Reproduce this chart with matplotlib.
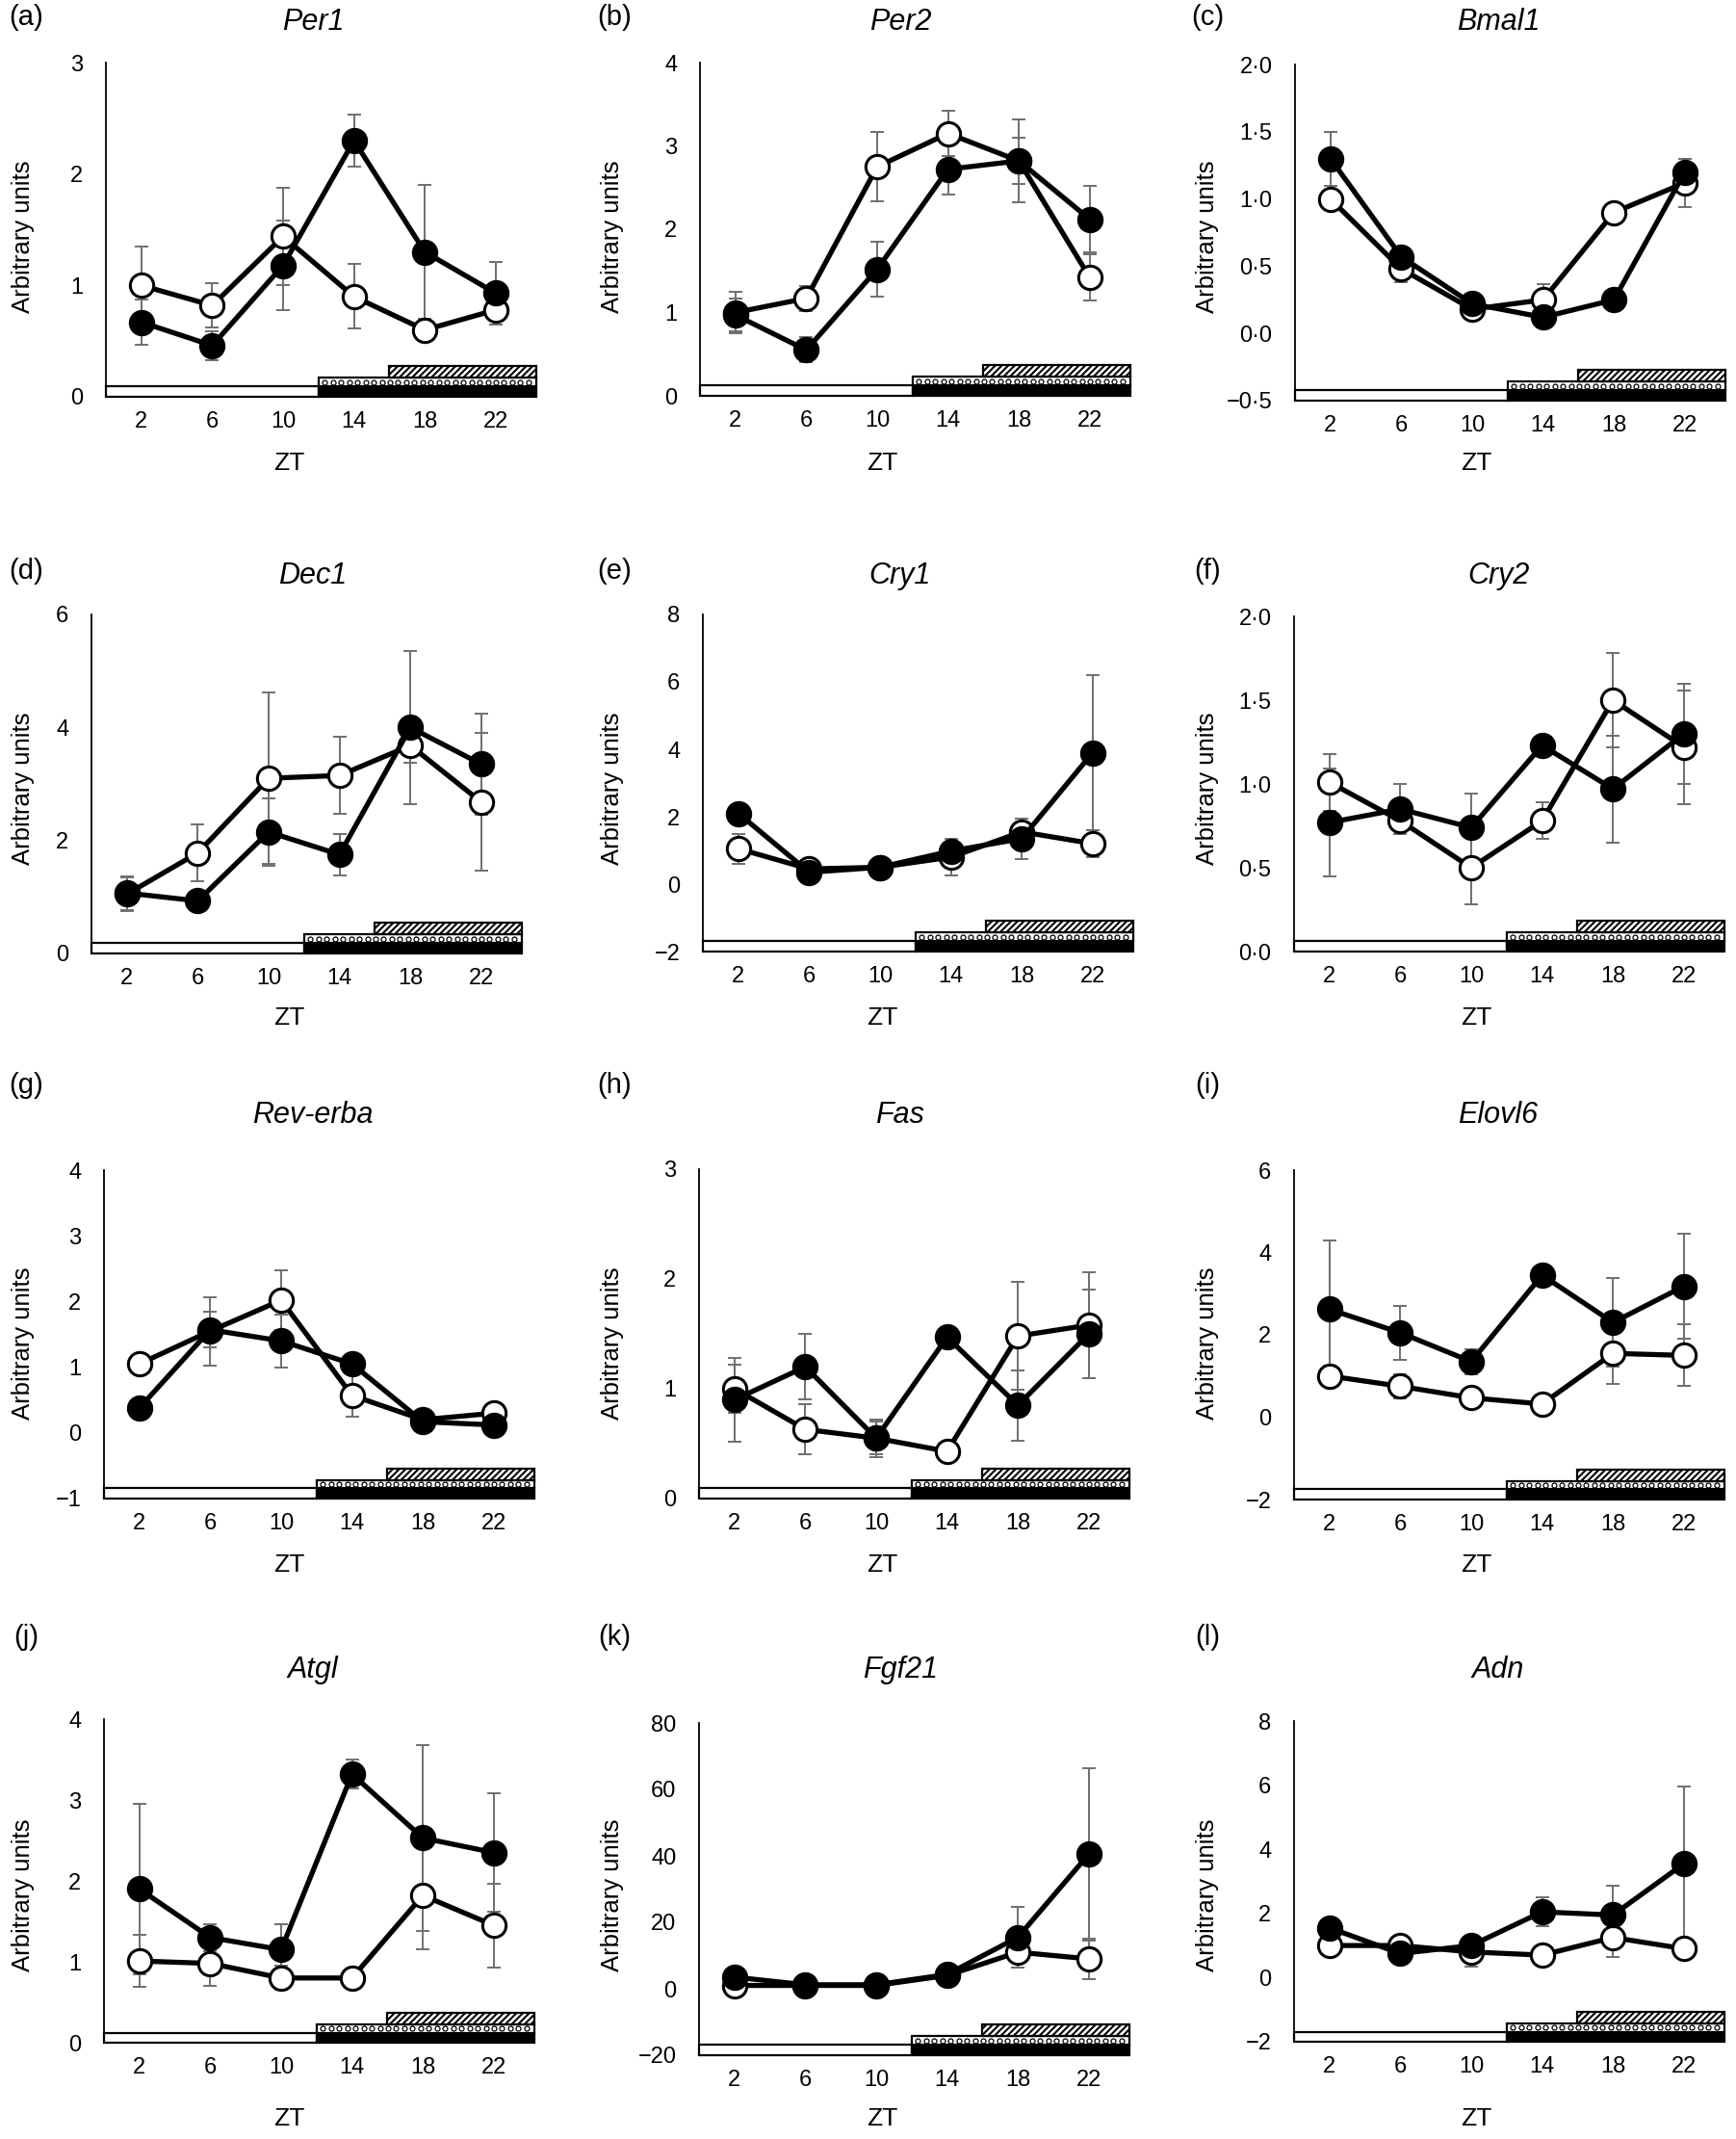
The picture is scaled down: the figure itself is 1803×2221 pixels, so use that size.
import numpy as np
import matplotlib.pyplot as plt
from matplotlib.patches import Rectangle

plt.rcParams['font.family'] = ['Liberation Sans', 'DejaVu Sans']
plt.rcParams['hatch.linewidth'] = 1.5

zt = [2, 6, 10, 14, 18, 22]

# open circles = one group, filled circles = the other (mean and error)
per1_open = [1.00, 0.82, 1.44, 0.90, 0.60, 0.78]
per1_open_err = [0.35, 0.20, 0.44, 0.29, 0.04, 0.10]
per1_fill = [0.67, 0.46, 1.18, 2.30, 1.30, 0.93]
per1_fill_err = [0.20, 0.13, 0.40, 0.23, 0.60, 0.28]

per2_open = [1.00, 1.17, 2.75, 3.15, 2.82, 1.42]
per2_open_err = [0.25, 0.15, 0.42, 0.27, 0.50, 0.28]
per2_fill = [0.97, 0.55, 1.52, 2.72, 2.82, 2.12]
per2_fill_err = [0.20, 0.15, 0.33, 0.30, 0.28, 0.40]

bmal1_open = [1.00, 0.48, 0.18, 0.25, 0.90, 1.12]
bmal1_open_err = [0.02, 0.10, 0.02, 0.12, 0.03, 0.18]
bmal1_fill = [1.30, 0.57, 0.22, 0.12, 0.25, 1.20]
bmal1_fill_err = [0.20, 0.03, 0.03, 0.03, 0.03, 0.10]

dec1_open = [1.05, 1.78, 3.10, 3.15, 3.68, 2.68]
dec1_open_err = [0.30, 0.50, 1.52, 0.68, 0.30, 1.22]
dec1_fill = [1.07, 0.93, 2.15, 1.75, 4.00, 3.35]
dec1_fill_err = [0.30, 0.10, 0.60, 0.37, 1.35, 0.90]

cry1_open = [1.05, 0.45, 0.50, 0.80, 1.55, 1.20]
cry1_open_err = [0.45, 0.10, 0.10, 0.55, 0.30, 0.40]
cry1_fill = [2.10, 0.35, 0.50, 0.98, 1.35, 3.90]
cry1_fill_err = [0.15, 0.10, 0.10, 0.20, 0.60, 2.30]

cry2_open = [1.01, 0.78, 0.50, 0.78, 1.50, 1.22]
cry2_open_err = [0.17, 0.08, 0.22, 0.11, 0.28, 0.34]
cry2_fill = [0.77, 0.85, 0.74, 1.23, 0.97, 1.30]
cry2_fill_err = [0.32, 0.15, 0.20, 0.03, 0.32, 0.30]

reverba_open = [1.05, 1.55, 2.02, 0.57, 0.20, 0.30]
reverba_open_err = [0.05, 0.52, 0.45, 0.32, 0.05, 0.05]
reverba_fill = [0.38, 1.57, 1.40, 1.05, 0.17, 0.12]
reverba_fill_err = [0.05, 0.27, 0.40, 0.10, 0.05, 0.05]

fas_open = [1.00, 0.63, 0.55, 0.43, 1.48, 1.58]
fas_open_err = [0.22, 0.23, 0.17, 0.03, 0.49, 0.48]
fas_fill = [0.90, 1.20, 0.55, 1.47, 0.85, 1.50]
fas_fill_err = [0.38, 0.30, 0.15, 0.03, 0.32, 0.40]

elovl6_open = [1.00, 0.75, 0.47, 0.32, 1.55, 1.50]
elovl6_open_err = [0.25, 0.30, 0.05, 0.05, 0.75, 0.75]
elovl6_fill = [2.62, 2.05, 1.35, 3.45, 2.30, 3.18]
elovl6_fill_err = [1.68, 0.65, 0.30, 0.05, 1.08, 1.27]

atgl_open = [1.01, 0.98, 0.80, 0.80, 1.82, 1.45]
atgl_open_err = [0.32, 0.28, 0.15, 0.05, 0.67, 0.52]
atgl_fill = [1.90, 1.30, 1.15, 3.32, 2.53, 2.35]
atgl_fill_err = [1.05, 0.17, 0.32, 0.18, 1.15, 0.73]

fgf21_open = [1.0, 1.0, 1.0, 4.0, 11.0, 9.0]
fgf21_open_err = [0.5, 0.3, 0.3, 0.5, 4.5, 6.0]
fgf21_fill = [3.5, 1.2, 1.2, 4.3, 15.5, 40.5]
fgf21_fill_err = [0.8, 0.3, 0.3, 0.8, 9.0, 26.0]

adn_open = [1.00, 1.00, 0.80, 0.70, 1.25, 0.90]
adn_open_err = [0.10, 0.10, 0.45, 0.30, 0.60, 0.10]
adn_fill = [1.55, 0.75, 1.00, 2.05, 1.95, 3.55]
adn_fill_err = [0.10, 0.10, 0.10, 0.45, 0.90, 2.40]

# y ticks and their labels
ticks_0_3 = [0, 1, 2, 3]
labels_0_3 = ['0', '1', '2', '3']
ticks_0_4 = [0, 1, 2, 3, 4]
labels_0_4 = ['0', '1', '2', '3', '4']
ticks_bmal1 = [-0.5, 0.0, 0.5, 1.0, 1.5, 2.0]
labels_bmal1 = ['\u22120\u00b75', '0\u00b70', '0\u00b75', '1\u00b70', '1\u00b75', '2\u00b70']
ticks_0_6 = [0, 2, 4, 6]
labels_0_6 = ['0', '2', '4', '6']
ticks_m2_8 = [-2, 0, 2, 4, 6, 8]
labels_m2_8 = ['\u22122', '0', '2', '4', '6', '8']
ticks_cry2 = [0.0, 0.5, 1.0, 1.5, 2.0]
labels_cry2 = ['0\u00b70', '0\u00b75', '1\u00b70', '1\u00b75', '2\u00b70']
ticks_m1_4 = [-1, 0, 1, 2, 3, 4]
labels_m1_4 = ['\u22121', '0', '1', '2', '3', '4']
ticks_m2_6 = [-2, 0, 2, 4, 6]
labels_m2_6 = ['\u22122', '0', '2', '4', '6']
ticks_fgf21 = [-20, 0, 20, 40, 60, 80]
labels_fgf21 = ['\u221220', '0', '20', '40', '60', '80']

panels = [
    ('(a)', 'Per1', per1_open, per1_open_err, per1_fill, per1_fill_err, ticks_0_3, labels_0_3),
    ('(b)', 'Per2', per2_open, per2_open_err, per2_fill, per2_fill_err, ticks_0_4, labels_0_4),
    ('(c)', 'Bmal1', bmal1_open, bmal1_open_err, bmal1_fill, bmal1_fill_err, ticks_bmal1, labels_bmal1),
    ('(d)', 'Dec1', dec1_open, dec1_open_err, dec1_fill, dec1_fill_err, ticks_0_6, labels_0_6),
    ('(e)', 'Cry1', cry1_open, cry1_open_err, cry1_fill, cry1_fill_err, ticks_m2_8, labels_m2_8),
    ('(f)', 'Cry2', cry2_open, cry2_open_err, cry2_fill, cry2_fill_err, ticks_cry2, labels_cry2),
    ('(g)', 'Rev-erba', reverba_open, reverba_open_err, reverba_fill, reverba_fill_err, ticks_m1_4, labels_m1_4),
    ('(h)', 'Fas', fas_open, fas_open_err, fas_fill, fas_fill_err, ticks_0_3, labels_0_3),
    ('(i)', 'Elovl6', elovl6_open, elovl6_open_err, elovl6_fill, elovl6_fill_err, ticks_m2_6, labels_m2_6),
    ('(j)', 'Atgl', atgl_open, atgl_open_err, atgl_fill, atgl_fill_err, ticks_0_4, labels_0_4),
    ('(k)', 'Fgf21', fgf21_open, fgf21_open_err, fgf21_fill, fgf21_fill_err, ticks_fgf21, labels_fgf21),
    ('(l)', 'Adn', adn_open, adn_open_err, adn_fill, adn_fill_err, ticks_m2_8, labels_m2_8),
]

# layout in pixels of the 1803 x 2221 figure
W, H = 1803, 2221
lefts = [110, 727, 1345, 95, 730, 1344, 108, 726, 1344, 108, 726, 1344]
tops = [65, 65, 67, 638, 638, 640, 1215, 1214, 1215, 1785, 1789, 1787]
bottoms = [412, 411, 416, 990, 988, 988, 1556, 1556, 1557, 2121, 2134, 2120]
ax_w = 449
col_label_x = [27, 638, 1254]
col_ylab_x = [24, 636, 1254]
col_title_x = [325, 935, 1556]
col_zt_x = [300, 916, 1533]
row_label_y = [18, 593, 1127, 1700]
row_title_y = [23, 598, 1158, 1734]
row_ylab_y = [246, 819, 1395, 1968]
row_zt_y = [481, 1057, 1625, 2200]

# small rings inside the dotted band
ring_x = np.arange(12.35, 24.1, 0.46)


def fx(x):
    return x / W


def fy(y):
    return 1 - y / H


fig = plt.figure(figsize=(W / 100, H / 100), dpi=100)

for i, (lab, gene, o, oe, f, fe, yt, ytl) in enumerate(panels):
    r, c = divmod(i, 3)
    ax = fig.add_axes([fx(lefts[i]), fy(bottoms[i]), ax_w / W, (bottoms[i] - tops[i]) / H])
    ax.set_xlim(0, 24.4)
    ax.set_ylim(yt[0], yt[-1])

    ax.errorbar(zt, o, yerr=oe, fmt='none', ecolor='#6f6f6f', elinewidth=1.4,
                capsize=5, capthick=1.4, zorder=2)
    ax.plot(zt, o, '-o', color='black', lw=3.8, ms=17.5, mfc='white', mec='black', mew=2.2, zorder=3)
    ax.errorbar(zt, f, yerr=fe, fmt='none', ecolor='#6f6f6f', elinewidth=1.4,
                capsize=5, capthick=1.4, zorder=2)
    ax.plot(zt, f, '-o', color='black', lw=3.8, ms=17.5, mfc='black', mec='black', mew=2.2, zorder=4)

    # light / dark and feeding bars along the bottom
    tr = ax.get_xaxis_transform()
    ax.add_patch(Rectangle((0, 0.0), 12, 0.031, transform=tr, fc='white', ec='black', lw=1.6, clip_on=False, zorder=5))
    ax.add_patch(Rectangle((12, 0.0), 12.3, 0.031, transform=tr, fc='black', ec='black', lw=1.6, clip_on=False, zorder=5))
    ax.add_patch(Rectangle((12, 0.031), 12.3, 0.026, transform=tr, fc='white', ec='black', lw=1.6, clip_on=False, zorder=5))
    ax.plot(ring_x, np.full(len(ring_x), 0.044), 'o', transform=tr, ms=3.6, mfc='white', mec='black',
            mew=0.9, clip_on=False, zorder=6)
    ax.add_patch(Rectangle((16, 0.057), 8.3, 0.035, transform=tr, fc='white', ec='black', hatch='/////', lw=1.6, clip_on=False, zorder=5))

    ax.set_xticks(zt)
    ax.set_xticklabels([str(z) for z in zt], fontsize=17)
    ax.set_yticks(yt)
    ax.set_yticklabels(ytl, fontsize=17)
    ax.tick_params(axis='both', length=0)
    ax.tick_params(axis='y', pad=17)
    ax.tick_params(axis='x', pad=11)
    for s in ['top', 'right', 'bottom']:
        ax.spines[s].set_visible(False)
    ax.spines['left'].set_linewidth(1.3)

    fig.text(fx(col_label_x[c]), fy(row_label_y[r]), lab, fontsize=21, ha='center', va='center')
    fig.text(fx(col_title_x[c]), fy(row_title_y[r]), gene, fontsize=22, style='italic', ha='center', va='center')
    fig.text(fx(col_ylab_x[c]), fy(row_ylab_y[r]), 'Arbitrary units', fontsize=18.5, rotation=90, ha='center', va='center')
    fig.text(fx(col_zt_x[c]), fy(row_zt_y[r]), 'ZT', fontsize=19, ha='center', va='center')

fig.savefig('out.png', dpi=100, facecolor='white')
